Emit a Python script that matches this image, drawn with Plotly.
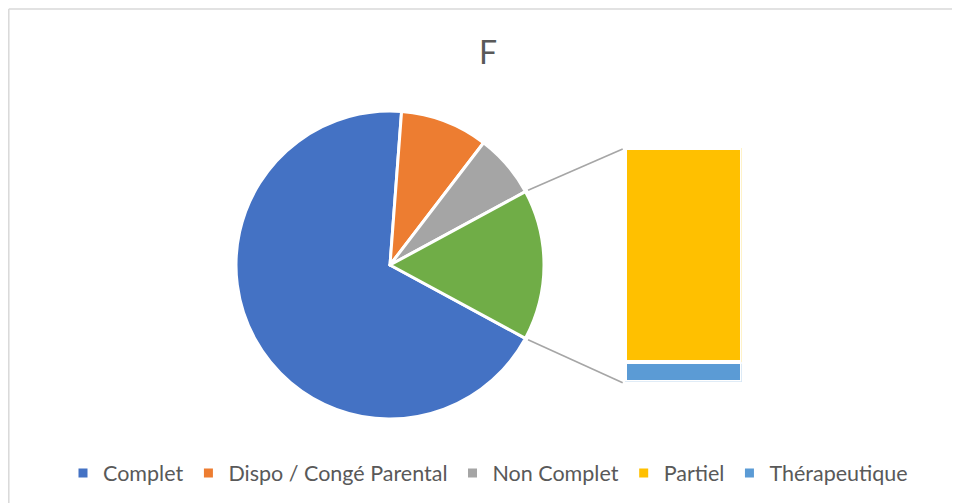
import math
import plotly.graph_objects as go

# ---- data ----
pie_labels = ["Complet", "Dispo / Congé Parental", "Non Complet"]
pie_values = [68.3, 9.2, 6.7]
bar_labels = ["Partiel", "Thérapeutique"]
bar_values = [14.5, 1.3]
title_text = "F"

colors = {
    "Complet": "#4472C4",
    "Dispo / Congé Parental": "#ED7D31",
    "Non Complet": "#A5A5A5",
    "Autre": "#70AD47",
    "Partiel": "#FFC000",
    "Thérapeutique": "#5B9BD5",
}

# ---- layout geometry (window pixels) ----
OFF = 8                          # page body margin
W, H = 960 - OFF, 503 - OFF      # figure size
cx, cy, R = 390, 265, 154              # pie centre / radius
bx0, bx1 = 624.7, 741.7                # bar horizontal extent
by_top, by_bot = 148, 381.7            # bar vertical extent

other_total = sum(bar_values)
all_labels = pie_labels + ["Autre"]
all_values = pie_values + [other_total]
total = sum(all_values)
before_other = sum(pie_values)
rotation = 90 - (before_other + other_total / 2) / total * 360
rotation = ((rotation + 180) % 360) - 180

def px(x):
    return (x - OFF) / W

def py(y):
    return (H - (y - OFF)) / H

fig = go.Figure()

fig.add_trace(go.Pie(
    labels=all_labels,
    values=all_values,
    sort=False,
    direction="clockwise",
    rotation=rotation,
    textinfo="none",
    marker=dict(colors=[colors[l] for l in all_labels],
                line=dict(color="white", width=3)),
    domain=dict(x=[px(cx - R), px(cx + R)], y=[py(cy + R), py(cy - R)]),
    showlegend=False,
    hoverinfo="label+value",
))

# stacked bar (bottom segment first)
for lab, val in reversed(list(zip(bar_labels, bar_values))):
    fig.add_trace(go.Bar(
        x=[0], y=[val], name=lab, width=1,
        marker=dict(color=colors[lab], line=dict(color="white", width=4)),
        showlegend=False,
        xaxis="x", yaxis="y",
    ))

# legend entries
for lab in pie_labels + bar_labels:
    fig.add_trace(go.Scatter(
        x=[None], y=[None], mode="markers", name=lab,
        marker=dict(symbol="square", size=9, color=colors[lab]),
        xaxis="x", yaxis="y",
    ))

# connector lines from the "other" slice edges to the bar corners
half = other_total / total * 180
shapes = []
for ang, yb in ((90 - half, by_top), (90 + half, by_bot)):
    t = math.radians(ang)
    x0 = cx + (R + 3) * math.sin(t)
    y0 = cy - (R + 3) * math.cos(t)
    shapes.append(dict(type="line", xref="paper", yref="paper",
                       x0=px(x0), y0=py(y0), x1=px(bx0 - 2), y1=py(yb + 1),
                       line=dict(color="#A6A6A6", width=1.6)))

# chart border (only top & left edges are visible in the reference)
border = dict(color="#D9D9D9", width=1.5)
shapes.append(dict(type="line", xref="paper", yref="paper",
                   x0=px(OFF + 0.8), y0=py(9), x1=1, y1=py(9), line=border))
shapes.append(dict(type="line", xref="paper", yref="paper",
                   x0=px(OFF + 0.8), y0=py(9), x1=px(OFF + 0.8), y1=0, line=border))

fig.update_layout(
    width=W, height=H,
    margin=dict(l=0, r=0, t=0, b=0),
    paper_bgcolor="white", plot_bgcolor="rgba(0,0,0,0)",
    barmode="stack",
    xaxis=dict(domain=[px(bx0), px(bx1)], range=[-0.5, 0.5], visible=False, fixedrange=True),
    yaxis=dict(domain=[py(by_bot), py(by_top)], range=[0, other_total], visible=False, fixedrange=True),
    title=dict(text=title_text, x=px(488), y=py(53), xanchor="center", yanchor="middle",
               font=dict(family="Lato", size=32, color="#595959")),
    legend=dict(orientation="h", x=px(488), y=py(473), xanchor="center", yanchor="middle",
                traceorder="normal",
                font=dict(family="Lato", size=21.5, color="#595959"),
                bgcolor="rgba(0,0,0,0)"),
    shapes=shapes,
    font=dict(family="Lato"),
)

fig.write_html("out.html")
